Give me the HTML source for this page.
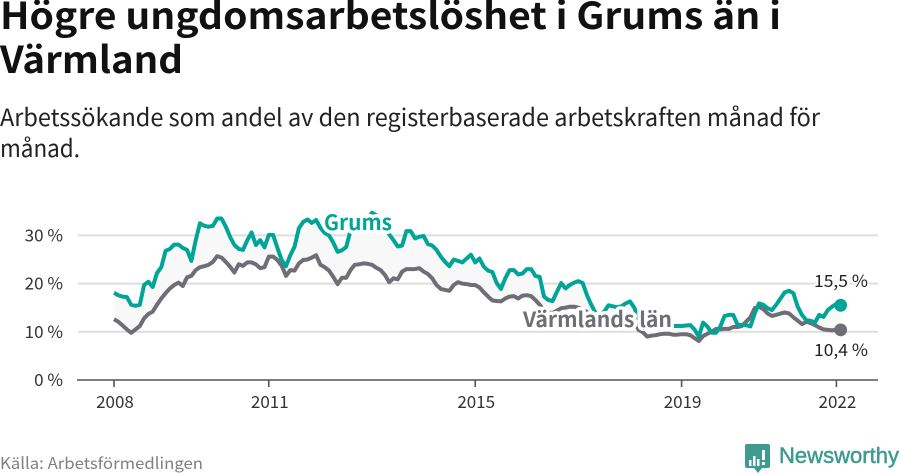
<!DOCTYPE html>
<html lang="sv">
<head>
<meta charset="utf-8">
<title>Högre ungdomsarbetslöshet i Grums än i Värmland</title>
<style>
html,body{margin:0;padding:0;background:#fff;width:900px;height:474px;overflow:hidden}
svg{display:block}
text{font-family:"Noto Sans CJK SC","Liberation Sans",sans-serif}
</style>
</head>
<body>
<svg id="chart" width="900" height="474" viewBox="0 0 900 474" xmlns="http://www.w3.org/2000/svg">
  <text x="0" y="29" font-size="37" font-weight="700" fill="#111" textLength="781" lengthAdjust="spacingAndGlyphs">Högre ungdomsarbetslöshet i Grums än i</text>
  <text x="0" y="73" font-size="37" font-weight="700" fill="#111" textLength="183" lengthAdjust="spacingAndGlyphs">Värmland</text>
  <text x="0" y="126" font-size="24" fill="#222" textLength="820" lengthAdjust="spacingAndGlyphs">Arbetssökande som andel av den registerbaserade arbetskraften månad för</text>
  <text x="0" y="157" font-size="24" fill="#222" textLength="80" lengthAdjust="spacingAndGlyphs">månad.</text>
  <g id="grid"></g>
  <g id="marks"></g>
  <g id="labels"></g>
  <text x="0" y="469" font-size="16" fill="#808085" textLength="203" lengthAdjust="spacingAndGlyphs">Källa: Arbetsförmedlingen</text>
  <g>
    <path d="M747 444H768a2 2 0 0 1 2 2V466a2 2 0 0 1-2 2H762L758 473L754 468H747a2 2 0 0 1-2-2V446a2 2 0 0 1 2-2Z" fill="#3f9a92"/>
    <path d="M749 460h2.500v6h-2.500ZM753 456h2.500v10h-2.500ZM757 459h2.500v7h-2.500ZM762 450h3v10h-3ZM762 462h3v3h-3Z" fill="#fff"/>
    <text x="779" y="463" font-size="22" fill="#3f9a92" stroke="#3f9a92" stroke-width="0.5" style="font-family:'Liberation Sans',sans-serif" textLength="120" lengthAdjust="spacingAndGlyphs">Newsworthy</text>
  </g>
</svg>
<script>
const yTicks = [10, 20, 30];
const yLabels = ["10 %", "20 %", "30 %"];
const xTickMonths = [0, 36, 84, 132, 168];
const xLabels = ["2008", "2011", "2015", "2019", "2022"];
const grums = [
18.1,17.6,17.3,17.2,15.6,15.4,15.6,19.7,20.4,19.3,22.2,23.4,
26.8,27.2,28.1,28.1,27.4,27.0,24.7,29.0,32.5,32.0,31.8,32.0,
33.5,33.5,31.8,29.7,28.0,27.2,27.0,29.0,30.6,28.0,29.0,27.5,
30.1,30.1,27.4,24.9,23.6,25.9,27.7,31.5,32.8,33.3,32.6,33.2,
31.6,30.5,30.0,28.5,26.6,26.9,27.6,31.0,33.0,33.0,33.2,33.5,
34.7,34.2,33.5,33.0,30.2,29.0,27.7,27.9,30.9,30.9,29.4,29.7,
29.9,28.2,27.9,27.0,25.6,24.5,23.6,25.0,24.7,24.4,25.2,26.0,
24.4,25.2,23.5,22.7,22.4,20.1,18.9,21.1,22.8,22.8,21.9,22.1,
23.0,23.0,21.6,21.4,17.3,16.6,16.4,18.3,20.1,19.0,19.7,20.2,
20.5,20.1,17.6,15.6,13.9,13.3,14.2,15.5,15.3,15.1,15.3,15.9,
16.3,15.0,12.7,12.0,11.5,11.3,11.3,11.2,11.2,11.2,11.2,11.2,
11.2,11.3,11.4,10.5,9.0,11.9,11.1,9.8,9.8,11.1,13.3,13.5,
13.5,11.5,11.4,11.4,11.1,13.8,15.9,15.6,14.9,14.5,15.6,16.9,
18.2,18.5,18.0,15.2,13.5,12.4,12.3,11.9,13.5,13.1,14.5,15.2,
15.8,15.5];
const varmland = [
12.6,12.1,11.3,10.5,9.8,10.5,11.2,12.8,13.7,14.2,15.6,16.9,
18.0,19.0,19.7,20.2,19.5,21.3,21.6,22.8,23.4,23.6,23.9,24.5,
25.7,25.4,24.5,23.5,22.3,24.0,23.7,24.4,24.4,24.0,23.2,23.4,
25.6,25.6,24.9,23.7,21.6,22.8,22.7,24.2,24.9,25.0,25.4,25.9,
23.9,23.4,22.7,21.4,19.9,21.2,21.2,22.8,23.9,24.0,24.2,24.1,
23.9,23.3,22.8,21.8,20.3,21.1,20.9,22.5,23.0,23.0,23.0,23.2,
22.5,22.0,21.1,19.7,18.9,18.7,18.5,19.7,20.3,20.0,19.9,19.7,
19.7,19.2,18.2,17.3,16.5,16.4,16.3,16.9,17.3,17.4,16.9,17.5,
17.6,17.4,16.6,15.6,14.5,14.0,13.9,14.4,14.9,15.0,15.2,15.2,
15.0,14.6,14.1,13.5,13.2,12.8,12.6,12.5,12.5,12.4,12.3,12.2,
12.2,12.0,10.4,9.9,9.0,9.2,9.3,9.5,9.6,9.6,9.4,9.4,
9.5,9.5,9.3,8.7,8.1,9.1,9.6,10.0,10.6,10.5,10.6,10.6,
11.0,11.0,11.2,12.1,13.0,14.9,15.2,14.7,13.8,13.3,13.5,13.8,
14.0,13.8,13.0,12.3,11.6,12.1,11.8,11.4,10.9,10.5,10.4,10.3,
10.5,10.4];
const seriesNames = ["Grums", "Värmlands län"];
const endLabels = ["15,5 %", "10,4 %"];

const NS = "http://www.w3.org/2000/svg";
const TEAL = "#00a598", GRAY = "#6f6d75";
function xScale(m){ return 114 + m * 4.3; }
function yScale(v){ return 380 - v * 4.82; }
function make(tag, parent, attrs){
  const el = document.createElementNS(NS, tag);
  for (const k in attrs) el.setAttribute(k, attrs[k]);
  document.getElementById(parent).appendChild(el);
  return el;
}
function pts(arr){ return arr.map((v, i) => xScale(i).toFixed(1) + "," + yScale(v).toFixed(1)); }

yTicks.forEach((t, i) => {
  const line = make("line", "grid", {x1:78, x2:878, y1:yScale(t), y2:yScale(t), stroke:"#dedede", "stroke-width":2});
  
  
  const lab = make("text", "grid", {x:63, y:yScale(t)+6, "text-anchor":"end", "font-size":17, fill:"#333"});
  
  
  lab.textContent = yLabels[i];
});
const zeroLabel = make("text", "grid", {x:63, y:yScale(0)+6, "text-anchor":"end", "font-size":17, fill:"#333"});


zeroLabel.textContent = "0 %";
const axis = make("line", "grid", {x1:77, x2:878, y1:yScale(0), y2:yScale(0), stroke:"#555", "stroke-width":1.6});


xTickMonths.forEach((m, i) => {
  const tick = make("line", "grid", {x1:xScale(m), x2:xScale(m), y1:yScale(0), y2:yScale(0)+7, stroke:"#555", "stroke-width":1.6});
  
  
  const lab = make("text", "grid", {x:xScale(m)+1, y:408, "text-anchor":"middle", "font-size":17, fill:"#333"});
  
  
  lab.textContent = xLabels[i];
});

const band = make("polygon", "marks", {points: pts(grums).concat(pts(varmland).reverse()).join(" "), fill:"#f8f8f8"});


const lineV = make("polyline", "marks", {points: pts(varmland).join(" "), fill:"none", stroke:GRAY, "stroke-width":4, "stroke-linejoin":"round"});


const lineG = make("polyline", "marks", {points: pts(grums).join(" "), fill:"none", stroke:TEAL, "stroke-width":4, "stroke-linejoin":"round"});


const last = grums.length - 1;
const dotV = make("circle", "marks", {cx:xScale(last), cy:yScale(varmland[last]), r:6.4, fill:GRAY});


const dotG = make("circle", "marks", {cx:xScale(last), cy:yScale(grums[last]), r:6.4, fill:TEAL});



const halo = "paint-order:stroke;stroke:#fff;stroke-width:7px;stroke-linejoin:round";
const nameG = make("text", "labels", {x:324, y:230, "font-size":21, "font-weight":700, fill:TEAL, style:halo, textLength:68, lengthAdjust:"spacingAndGlyphs"});


nameG.textContent = seriesNames[0];
const nameV = make("text", "labels", {x:523, y:327, "font-size":21, "font-weight":700, fill:GRAY, style:halo, textLength:149, lengthAdjust:"spacingAndGlyphs"});


nameV.textContent = seriesNames[1];
const endG = make("text", "labels", {x:814, y:287, "font-size":17, fill:"#222", style:"paint-order:stroke;stroke:#fff;stroke-width:4px", textLength:54, lengthAdjust:"spacingAndGlyphs"});


endG.textContent = endLabels[0];
const endV = make("text", "labels", {x:814, y:356, "font-size":17, fill:"#222", textLength:54, lengthAdjust:"spacingAndGlyphs"});


endV.textContent = endLabels[1];
</script>
</body>
</html>
